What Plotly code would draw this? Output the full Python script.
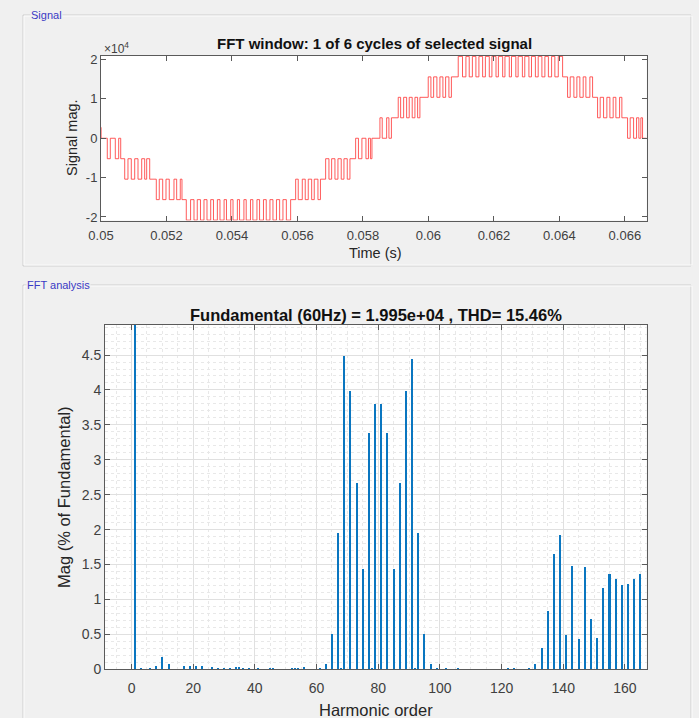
import plotly.graph_objects as go

W, H = 699, 718
def px(x): return x / W
def py(y): return 1 - y / H

# ---------------- data: time signal (one fundamental cycle) ----------------
step_volts = 5200          # one inverter level
t_start = 0.05
t_end = 0.05 + 1 / 60
# switching instants (microseconds after t_start) and level index after each switch
switch_time_us = [
    0, 3,
    192, 284, 437, 540, 602,
    724, 824, 925, 1029, 1130, 1243, 1334, 1395, 1487,
    1689, 1780, 1884, 1985, 2085, 2229, 2311, 2421, 2473,
    2605,
    2736, 2840, 2940, 3038, 3145, 3237, 3350, 3435, 3554, 3634, 3759, 3832, 3962, 4032,
    4165, 4232, 4365, 4435, 4565, 4638, 4763, 4843, 4962, 5047, 5160, 5252, 5359, 5456,
    5557, 5661, 5792,
    5945, 6024, 6147, 6238, 6330, 6434, 6513, 6626, 6702,
    6861, 6962, 7044, 7145, 7237, 7337, 7420, 7521, 7603,
    7777, 7863, 7969, 8092, 8168, 8229, 8275,
    8519, 8589, 8724, 8794, 8870,
    9078, 9151, 9243, 9334, 9414, 9505, 9588, 9670, 9740,
    9994, 10076, 10159, 10259, 10351, 10443, 10525, 10626, 10702,
    10910,
    11041, 11145, 11246, 11343, 11450, 11542, 11655, 11740, 11859, 11939, 12064, 12137,
    12267, 12337, 12470, 12537, 12670, 12740, 12870, 12943, 13069, 13148, 13267, 13353,
    13466, 13557, 13664, 13762, 13862, 13966, 14098,
    14250, 14330, 14443, 14534, 14625, 14727, 14809, 14931, 15014,
    15166, 15246, 15349, 15450, 15542, 15643, 15725, 15838, 15908,
    16082, 16162, 16266, 16357, 16427, 16488, 16540,
]
switch_level = [
    0.53, 0,
    -1, 0, -1, 0, -1,
    -2, -1, -2, -1, -2, -1, -2, -1, -2,
    -3, -2, -3, -2, -3, -2, -3, -2, -3,
    -4,
    -3, -4, -3, -4, -3, -4, -3, -4, -3, -4, -3, -4, -3, -4,
    -3, -4, -3, -4, -3, -4, -3, -4, -3, -4, -3, -4, -3, -4,
    -3, -4, -3,
    -2, -3, -2, -3, -2, -3, -2, -3, -2,
    -1, -2, -1, -2, -1, -2, -1, -2, -1,
    0, -1, 0, -1, 0, -1, 0,
    1, 0, 1, 0, 1,
    2, 1, 2, 1, 2, 1, 2, 1, 2,
    3, 2, 3, 2, 3, 2, 3, 2, 3,
    4,
    3, 4, 3, 4, 3, 4, 3, 4, 3, 4, 3, 4,
    3, 4, 3, 4, 3, 4, 3, 4, 3, 4, 3, 4,
    3, 4, 3, 4, 3, 4, 3,
    2, 3, 2, 3, 2, 3, 2, 3, 2,
    1, 2, 1, 2, 1, 2, 1, 2, 1,
    0, 1, 0, 1, 0, 1, 0,
]
assert len(switch_time_us) == len(switch_level)

time_ticks = [0.05, 0.052, 0.054, 0.056, 0.058, 0.06, 0.062, 0.064, 0.066]
time_tick_labels = ["0.05", "0.052", "0.054", "0.056", "0.058", "0.06", "0.062", "0.064", "0.066"]
sig_ticks = [-20000, -10000, 0, 10000, 20000]
sig_tick_labels = ["-2", "-1", "0", "1", "2"]

# ---------------- data: harmonic spectrum (% of fundamental) ----------------
harmonic_order = [1, 3, 6, 8, 10, 12, 17, 19, 21, 23, 26, 28, 30, 32, 34, 35, 36, 38, 41,
                  45, 46, 52, 53, 54, 56, 61, 63,
                  65, 67, 68, 69, 71, 73, 75, 77, 78, 79, 81, 83, 85, 87, 89, 91, 92, 93, 95,
                  97, 99, 102, 106, 122, 124, 129, 131,
                  133, 135, 137, 139, 141, 143, 145, 147, 149, 151, 153, 155, 157, 159, 161, 163, 165]
harmonic_mag = [100, 0.015, 0.02, 0.05, 0.18, 0.07, 0.05, 0.05, 0.045, 0.05, 0.03, 0.015, 0.025, 0.025, 0.03, 0.03, 0.025, 0.015, 0.02,
                0.025, 0.02, 0.02, 0.02, 0.02, 0.03, 0.02, 0.07,
                0.50, 1.95, 0.015, 4.48, 3.98, 2.67, 1.44, 3.39, 0.01, 3.80, 3.80, 3.39, 1.44, 2.67, 3.98, 4.44, 0.01, 1.95, 0.50,
                0.07, 0.015, 0.01, 0.015, 0.01, 0.01, 0.01, 0.07,
                0.30, 0.84, 1.65, 1.92, 0.49, 1.48, 0.44, 1.47, 0.72, 0.45, 1.17, 1.37, 1.30, 1.21, 1.22, 1.29, 1.36]
assert len(harmonic_order) == len(harmonic_mag)
harm_ticks = [0, 20, 40, 60, 80, 100, 120, 140, 160]

# ---------------- build traces ----------------
sig_t = [t_start + us * 1e-6 for us in switch_time_us] + [t_end]
sig_v = [lv * step_volts for lv in switch_level] + [switch_level[-1] * step_volts]

FONT = "Liberation Sans, Arial, sans-serif"
AX = "#262626"
TICK = "#404040"

fig = go.Figure()
fig.add_trace(go.Scatter(x=sig_t, y=sig_v, mode="lines", line=dict(color="rgba(255,50,50,0.8)", width=1, shape="hv"),
                         xaxis="x", yaxis="y", showlegend=False, hoverinfo="skip"))
fig.add_trace(go.Bar(x=harmonic_order, y=harmonic_mag, width=0.65, marker=dict(color="#0a76c0", line=dict(width=0)),
                     xaxis="x2", yaxis="y2", showlegend=False))

common = dict(showline=True, linecolor="#5a5a5a", linewidth=1, mirror="ticks", ticks="inside", ticklen=5,
              tickcolor="#5a5a5a", zeroline=False, automargin=False,
              tickfont=dict(family=FONT, size=13, color=TICK))

layout = dict(
    width=W, height=H, autosize=False, margin=dict(l=0, r=0, t=0, b=0, pad=0, autoexpand=False),
    paper_bgcolor="#f0f0f0", plot_bgcolor="white", bargap=0,
    font=dict(family=FONT, color=AX),
    xaxis=dict(domain=[px(101), px(646.7)], anchor="y", range=[t_start, t_end],
               tickvals=time_ticks, ticktext=time_tick_labels, showgrid=False, ticklabelstandoff=3, **common),
    yaxis=dict(domain=[py(220.5), py(56)], anchor="x", range=[-20900, 20900],
               tickvals=sig_ticks, ticktext=sig_tick_labels, showgrid=False, **common),
    xaxis2=dict(domain=[px(105), px(646.5)], anchor="y2", range=[-8.6, 167], tickvals=harm_ticks,
                showgrid=True, gridcolor="#e0e0e0", gridwidth=1, ticklabelstandoff=6,
                minor=dict(dtick=5, tick0=0, showgrid=True, gridcolor="#e8e8e8", griddash="dot", ticks=""),
                **{**common, "tickfont": dict(family=FONT, size=14, color=TICK)}),
    yaxis2=dict(domain=[py(669.3), py(325)], anchor="x2", range=[0, 4.93], dtick=0.5, tick0=0,
                showgrid=True, gridcolor="#e0e0e0", gridwidth=1,
                minor=dict(dtick=0.1, tick0=0, showgrid=True, gridcolor="#e8e8e8", griddash="dot", ticks=""),
                **{**common, "tickfont": dict(family=FONT, size=14, color=TICK)}),
)
fig.update_layout(**layout)

# panel frames (etched look)
shapes = []
for (x0, y0, x1, y1) in [(23, 15, 691, 266), (23, 285, 691, 740)]:
    shapes.append(dict(type="rect", xref="paper", yref="paper", x0=px(x0), y0=py(y1), x1=px(x1), y1=py(y0),
                       line=dict(color="#cfcfcf", width=1), layer="below"))
    shapes.append(dict(type="rect", xref="paper", yref="paper", x0=px(x0 + 1), y0=py(y1 - 1), x1=px(x1 + 1), y1=py(y0 + 1),
                       line=dict(color="#fbfbfb", width=1), layer="below"))
fig.update_layout(shapes=shapes)

def ann(text, x, y, size, bold=False, color=AX, angle=0, xanchor="center", bg=None):
    d = dict(text=f"<b>{text}</b>" if bold else text, x=px(x), y=py(y), xref="paper", yref="paper",
             showarrow=False, xanchor=xanchor, yanchor="middle", textangle=angle,
             font=dict(family=FONT, size=size, color=color))
    if bg:
        d.update(bgcolor=bg, borderpad=0)
    return d

annotations = [
    ann("Signal", 30, 15, 11, color="#3a3ac4", xanchor="left", bg="#f0f0f0"),
    ann("FFT analysis", 26, 285, 11, color="#3a3ac4", xanchor="left", bg="#f0f0f0"),
    ann("FFT window: 1 of 6 cycles of selected signal", 374, 44, 15, bold=True, color="#111111"),
    ann("×10<sup>4</sup>", 102, 48, 12, color=TICK, xanchor="left"),
    ann("Signal mag.", 72, 138, 14.5, angle=-90),
    ann("Time (s)", 375, 253, 14.5),
    ann("Fundamental (60Hz) = 1.995e+04 , THD= 15.46%", 376, 315, 16.5, bold=True, color="#111111"),
    ann("Mag (% of Fundamental)", 64, 497, 16.5, angle=-90),
    ann("Harmonic order", 376, 710, 16.5),
]
fig.update_layout(annotations=annotations)

fig.write_html("out.html", config={"displayModeBar": False},
               post_script="document.body.style.margin='0';document.body.style.overflow='hidden';")
